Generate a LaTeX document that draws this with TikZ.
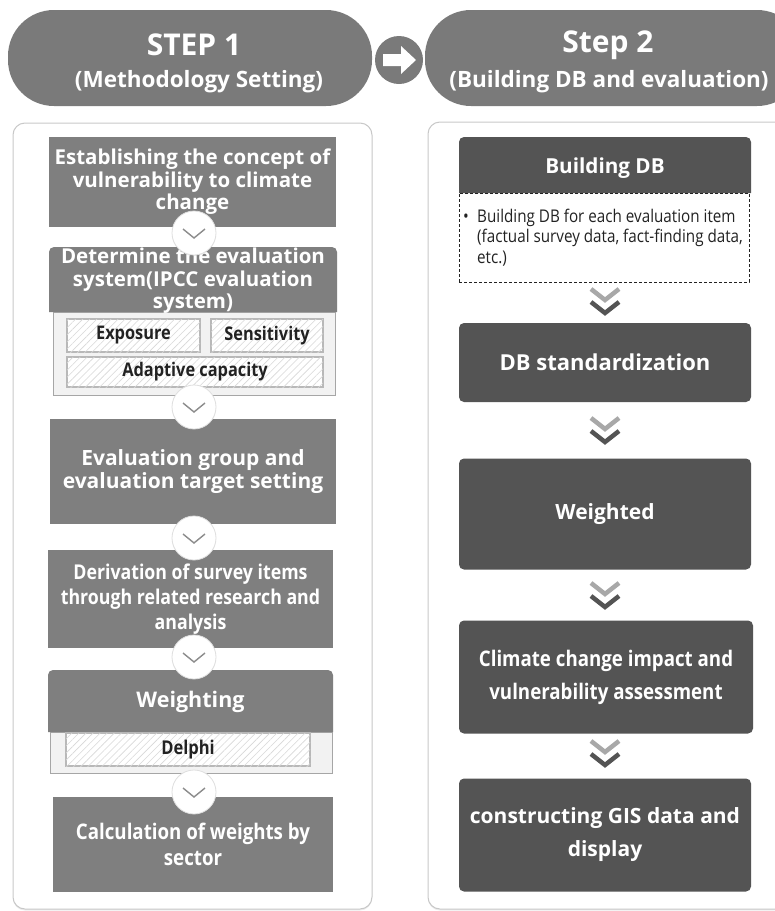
\documentclass[tikz,border=0pt]{standalone}
\usepackage{fontspec}
\setmainfont{Open Sans}
\newfontfamily\narrow{Open Sans}[FakeStretch=0.87]
\usetikzlibrary{patterns,patterns.meta,shadows}
\definecolor{lbox}{HTML}{7F7F7F}
\definecolor{rbox}{HTML}{545454}
\definecolor{pill}{HTML}{7A7A7A}
\definecolor{panelline}{HTML}{C8C8C8}
\definecolor{subfill}{HTML}{F2F2F2}
\definecolor{subline}{HTML}{A6A6A6}
\definecolor{hatchline}{HTML}{D8D8D8}
\definecolor{chev}{HTML}{8C8C8C}
\definecolor{chevlight}{HTML}{A8A8A8}
\definecolor{txtdark}{HTML}{222222}
\tikzset{
 pillbox/.style={fill=pill, rounded corners=46pt, inner sep=0pt},
 panel/.style={fill=white, draw=panelline, line width=1pt, rounded corners=12pt, inner sep=0pt,
   drop shadow={opacity=0.15, shadow xshift=0pt, shadow yshift=-1.5pt}},
 lstep/.style={fill=lbox, inner sep=0pt, text=white, align=center, font=\bfseries\fontsize{20.5}{22.5}\selectfont},
 lnarrow/.style={lstep, font=\narrow\bfseries\fontsize{20.4}{25}\selectfont},
 rstep/.style={fill=rbox, rounded corners=5pt, inner sep=0pt, text=white, align=center, font=\bfseries\fontsize{21}{33}\selectfont},
 txtonly/.style={inner sep=0pt, text=white, align=center},
 subpanel/.style={fill=subfill, draw=subline, line width=0.8pt},
 hatchbox/.style={fill=white, draw=subline!80, line width=1.2pt,
   postaction={pattern={Lines[angle=45, distance=5pt, line width=0.6pt]}, pattern color=hatchline},
   inner sep=0pt, text=txtdark, font=\narrow\bfseries\fontsize{18.8}{20}\selectfont},
 chevcircle/.style={circle, fill=white, draw=gray!25, line width=0.8pt, minimum size=44pt, inner sep=0pt,
   drop shadow={opacity=0.15, shadow xshift=0pt, shadow yshift=-1pt}},
 chevline/.style={draw=chev, line width=1.4pt},
 dchevlight/.style={draw=chevlight, line width=4.5pt},
 dchevdark/.style={draw=rbox, line width=4.5pt},
 headtitle/.style={inner sep=0pt, text=white, font=\bfseries\fontsize{30}{34}\selectfont},
 headsub/.style={inner sep=0pt, text=white, font=\bfseries\fontsize{22.5}{26}\selectfont},
}
\begin{document}
\begin{tikzpicture}[x=1pt,y=-1pt]
\useasboundingbox (0,0) rectangle (775,911);

% header pills
\node[pillbox, minimum width=364pt, minimum height=96pt] (h1) at (190,58) {};
\node[headtitle] (h1t) at (194,45) {STEP 1};
\node[headsub] (h1s) at (199,82) {(Methodology Setting)};
\node[pillbox, minimum width=378pt, minimum height=96pt] (h2) at (614,58) {};
\node[headtitle] (h2t) at (608,45) {Step 2};
\node[headsub] (h2s) at (609,82) {(Building DB and evaluation)};
\node[circle, fill=pill, minimum size=48pt, inner sep=0pt] (arr) at (399,60) {};
\begin{scope}[shift={(arr.center)}]
\fill[white] (-16,-6) -- (2,-6) -- (2,-14) -- (17,0) -- (2,14) -- (2,6) -- (-16,6) -- cycle;
\end{scope}

% panels
\node[panel, minimum width=359pt, minimum height=786pt] (lpanel) at (192.5,516) {};
\node[panel, minimum width=362pt, minimum height=787pt] (rpanel) at (609,515.5) {};

% ---------- left column ----------
\node[lstep, minimum width=287pt, minimum height=90pt] (L1) at (192.5,182)
  {Establishing the concept of\\vulnerability to climate\\change};

\node[subpanel, minimum width=282pt, minimum height=83pt, inner sep=0pt] (S2) at (194,353.5) {};
\fill[lbox] (49,312) -- (49,257) [rounded corners=5pt] -- (49,247) -- (337,247) -- (337,257) [sharp corners] -- (337,312) -- cycle;
\node[txtonly, font=\bfseries\fontsize{20.5}{22.5}\selectfont, minimum width=288pt, minimum height=65pt] (L2) at (193,281)
  {Determine the evaluation\\system(IPCC evaluation\\system)};
\node[hatchbox, minimum width=133pt, minimum height=33pt] (exp) at (133.5,335.5) {Exposure};
\node[hatchbox, minimum width=112pt, minimum height=33pt] (sen) at (267,335.5) {Sensitivity};
\node[hatchbox, minimum width=256pt, minimum height=30pt] (ada) at (195,372) {Adaptive capacity};

\node[lstep, minimum width=286pt, minimum height=105pt, font=\bfseries\fontsize{21}{23.5}\selectfont] (L3) at (193,471.5)
  {Evaluation group and\\evaluation target setting};
\node[lnarrow, minimum width=285pt, minimum height=98pt] (L4) at (190.5,599)
  {Derivation of survey items\\through related research and\\analysis};

\node[subpanel, minimum width=282pt, minimum height=41pt, inner sep=0pt] (S5) at (191,752.5) {};
\fill[lbox] (48,732) -- (48,680) [rounded corners=5pt] -- (48,670) -- (333,670) -- (333,680) [sharp corners] -- (333,732) -- cycle;
\node[txtonly, font=\bfseries\fontsize{21.5}{23}\selectfont, minimum width=285pt, minimum height=62pt] (L5) at (190.5,702) {Weighting};
\node[hatchbox, minimum width=244pt, minimum height=33pt, font=\narrow\bfseries\fontsize{19}{20}\selectfont] (del) at (188,749.5) {Delphi};

\node[lnarrow, minimum width=280pt, minimum height=95pt, font=\narrow\bfseries\fontsize{21.5}{26}\selectfont] (L6) at (193,844.5)
  {Calculation of weights by\\sector};

% chevron circles
\foreach \n/\yy in {c1/233, c2/407, c3/538, c4/657, c5/792} {
  \node[chevcircle] (\n) at (194,\yy) {};
  \draw[chevline] ([shift={(-11,-4)}]\n.center) -- ([shift={(0,5)}]\n.center) -- ([shift={(11,-4)}]\n.center);
}

% ---------- right column ----------
\fill[rbox] (459,193) -- (459,147) [rounded corners=5pt] -- (459,137) -- (751,137) -- (751,147) [sharp corners] -- (751,193) -- cycle;
\node[txtonly, font=\bfseries\fontsize{20.7}{24}\selectfont, minimum width=292pt, minimum height=56pt] (R1) at (605,168) {Building DB};
\node[draw=txtdark, line width=0.8pt, dash pattern=on 3pt off 2pt, minimum width=290pt, minimum height=89pt, inner sep=0pt] (R1d) at (604,237.5) {};
\node[anchor=west, inner sep=0pt, align=left, text=txtdark, font=\narrow\fontsize{17.5}{20.5}\selectfont] (R1t) at (463,237.5)
  {\makebox[14pt][l]{•}Building DB for each evaluation item\\
   \hspace*{14pt}(factual survey data, fact-finding data,\\
   \hspace*{14pt}etc.)};

\node[rstep, minimum width=292pt, minimum height=79pt, font=\bfseries\fontsize{22}{33}\selectfont] (R2) at (605,362.5) {DB standardization};
\node[rstep, minimum width=292pt, minimum height=111pt] (R3) at (605,514) {Weighted};
\node[rstep, minimum width=294pt, minimum height=113pt, font=\narrow\bfseries\fontsize{21.5}{33}\selectfont] (R4) at (606,677)
  {Climate change impact and\\vulnerability assessment};
\node[rstep, minimum width=292pt, minimum height=113pt] (R5) at (605,835)
  {constructing GIS data and\\display};

% double chevrons
\foreach \n/\yy in {d1/301, d2/430, d3/595, d4/753} {
  \coordinate (\n) at (605,\yy);
  \draw[dchevlight] ([shift={(-14,-12)}]\n) -- ([shift={(0,-1)}]\n) -- ([shift={(14,-12)}]\n);
  \draw[dchevdark] ([shift={(-14,1)}]\n) -- ([shift={(0,12)}]\n) -- ([shift={(14,1)}]\n);
}
\end{tikzpicture}
\end{document}
